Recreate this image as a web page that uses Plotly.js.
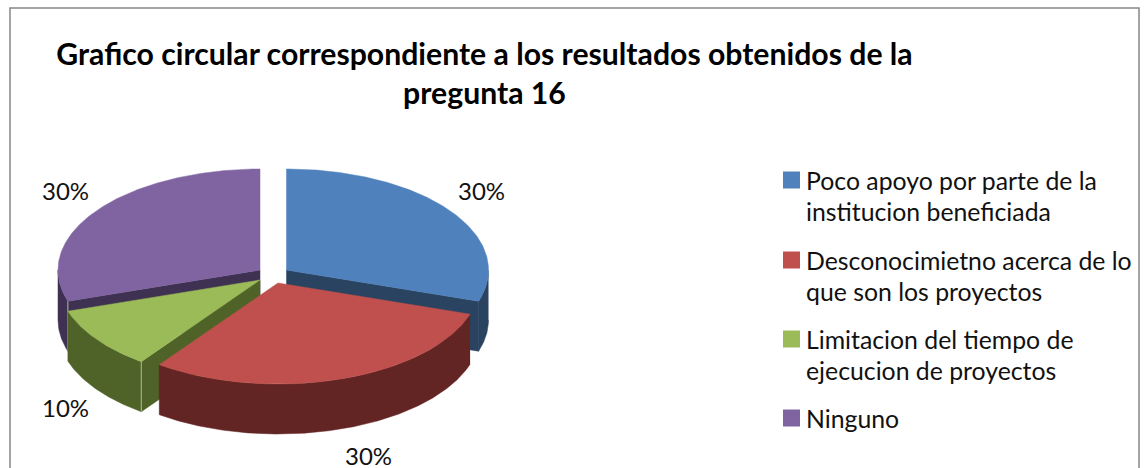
<!DOCTYPE html>
<html>
<head>
<meta charset="utf-8">
<script src="https://cdn.plot.ly/plotly-3.0.1.min.js"></script>
<style>html,body{margin:0;padding:0;background:#fff}#chart{width:1144px;height:468px}</style>
</head>
<body>
<div id="chart"></div>
<script>
// Data
const categories = [
  "Poco apoyo por parte de la<br>institucion beneficiada",
  "Desconocimietno acerca de lo<br>que son los proyectos",
  "Limitacion del tiempo de<br>ejecucion de proyectos",
  "Ninguno"
];
const values = [30, 30, 10, 30];
const titleText = "Grafico circular correspondiente a los resultados obtenidos de la<br>pregunta 16";

// Style
const topColors = ["#4F81BD", "#C0504D", "#9BBB59", "#8064A2"];
const sideColors = ["#2A4361", "#632523", "#4F6228", "#3F3151"];
const fontFamily = "Lato, 'Open Sans', sans-serif";

// Projection of the exploded 3D pie onto the page (axis units = page pixels)
const radiusX = 202, radiusY = 101, depth = 50;
const apexX = [286.5, 278, 260, 260];
const apexY = [270, 283, 280, 270];
const drawOrder = [0, 3, 2, 1];
const labelX = [481, 368, 65, 65];
const labelY = [190, 455, 407, 190];
const legendSwatchX = 791.5, legendTextX = 806;
const legendLineY = [[180, 211], [260, 291], [339, 370], [418]];

const total = values.reduce((a, b) => a + b, 0);
let running = 0;
const ranges = values.map(v => { const r = [running, running + 360 * v / total]; running = r[1]; return r; });
const rad = d => d * Math.PI / 180;
const px = (i, a) => apexX[i] + radiusX * Math.sin(rad(a));
const py = (i, a) => apexY[i] - radiusY * Math.cos(rad(a));
function arc(i, a0, a1, dy) {
  const xs = [], ys = [], n = Math.max(2, Math.ceil(Math.abs(a1 - a0) * 2));
  for (let k = 0; k <= n; k++) {
    const a = a0 + (a1 - a0) * k / n;
    xs.push(px(i, a)); ys.push(py(i, a) + dy);
  }
  return {xs, ys};
}
function poly(x, y, color) {
  return {type: "scatter", mode: "lines", x, y, fill: "toself", fillcolor: color,
    line: {color: color, width: 0.5}, showlegend: false, hoverinfo: "skip"};
}
function radialFace(i, a, color) {
  const ex = px(i, a), ey = py(i, a);
  return poly([apexX[i], ex, ex, apexX[i], apexX[i]],
              [apexY[i], ey, ey + depth, apexY[i] + depth, apexY[i]], color);
}

const traces = [];
drawOrder.forEach(i => {
  const [a0, a1] = ranges[i];
  if (Math.sin(rad(a0)) < -1e-6) traces.push(radialFace(i, a0, sideColors[i]));
  if (Math.sin(rad(a1)) > 1e-6) traces.push(radialFace(i, a1, sideColors[i]));
  const w0 = Math.max(a0, 90), w1 = Math.min(a1, 270);
  if (w1 > w0) {
    const t = arc(i, w0, w1, 0), b = arc(i, w1, w0, depth);
    traces.push(poly(t.xs.concat(b.xs), t.ys.concat(b.ys), sideColors[i]));
  }
  if (Math.sin(rad(a0)) < -1e-6) {
    traces.push({type: "scatter", mode: "lines", x: [px(i, a0), px(i, a0)], y: [py(i, a0), py(i, a0) + depth],
      line: {color: "#AEB89A", width: 1}, showlegend: false, hoverinfo: "skip"});
  }
  const top = arc(i, a0, a1, 0);
  traces.push(poly([apexX[i]].concat(top.xs, [apexX[i]]), [apexY[i]].concat(top.ys, [apexY[i]]), topColors[i]));
});

// Legend drawn to keep the swatch on the first text line, as in the reference
categories.forEach((name, i) => {
  traces.push({type: "scatter", mode: "markers", x: [legendSwatchX], y: [legendLineY[i][0]], name: name.replace("<br>", " "),
    marker: {symbol: "square", size: 17, color: topColors[i]}, showlegend: false, hoverinfo: "skip"});
});

const annotations = values.map((v, i) => ({
  x: labelX[i], y: labelY[i], xref: "x", yref: "y", text: Math.round(100 * v / total) + "%",
  showarrow: false, xanchor: "center", yanchor: "middle", height: 24, valign: "middle", borderpad: 0,
  font: {family: fontFamily, size: 24, color: "#111"}
}));
categories.forEach((name, i) => {
  name.split("<br>").forEach((line, k) => {
    annotations.push({x: legendTextX, y: legendLineY[i][k], xref: "x", yref: "y", text: line,
      showarrow: false, xanchor: "left", yanchor: "middle", xshift: -2,
      font: {family: fontFamily, size: 24.8, color: "#111"}});
  });
});

const layout = {
  width: 1144, height: 468, margin: {l: 0, r: 0, t: 0, b: 0},
  paper_bgcolor: "#fff", plot_bgcolor: "#fff", hovermode: false, showlegend: false,
  title: {text: titleText, x: 484.5 / 1144, xanchor: "center", y: 1 - 64.5 / 468, yanchor: "middle",
    font: {family: fontFamily, size: 30.2, color: "#000", weight: 700}},
  xaxis: {range: [0, 1144], visible: false, fixedrange: true},
  yaxis: {range: [468, 0], visible: false, fixedrange: true},
  annotations,
  shapes: [{type: "path", xref: "x", yref: "y", path: "M10,480 L10,8 L1139,8 L1139,480",
    line: {color: "#868686", width: 1.5}, layer: "below"}]
};
Plotly.newPlot("chart", traces, layout, {displayModeBar: false, staticPlot: true});
</script>
</body>
</html>
